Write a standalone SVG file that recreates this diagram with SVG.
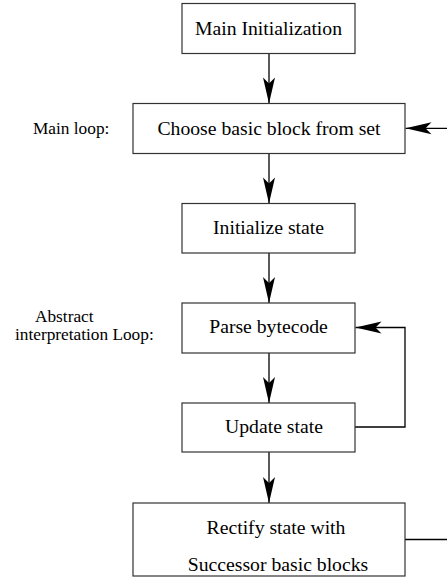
<svg xmlns="http://www.w3.org/2000/svg" width="447" height="577" viewBox="0 0 447 577">
<style>
  .box { fill: #ffffff; stroke: #333333; stroke-width: 1.2; }
  .lbl { font-family: "Liberation Serif", "Times New Roman", serif; font-size: 19.7px; fill: #000; text-anchor: middle; }
  .side { font-family: "Liberation Serif", "Times New Roman", serif; font-size: 17.3px; fill: #000; }
  .conn { fill: none; stroke: #000; stroke-width: 1.3; }
</style>
<defs>
  <marker id="arr" viewBox="-27 -7 28 14" markerWidth="28" markerHeight="14" refX="0" refY="0" orient="auto" markerUnits="userSpaceOnUse">
    <path d="M0,0 L-26,-6 L-20,0 L-26,6 Z" fill="#000"/>
  </marker>
</defs>
<rect width="447" height="577" fill="#ffffff"/>
<g id="connectors">
  <line class="conn" x1="269" y1="53.5" x2="269" y2="103.5" marker-end="url(#arr)"/>
  <line class="conn" x1="269" y1="153.5" x2="269" y2="203.5" marker-end="url(#arr)"/>
  <line class="conn" x1="269" y1="253" x2="269" y2="303" marker-end="url(#arr)"/>
  <line class="conn" x1="269" y1="353" x2="269" y2="403" marker-end="url(#arr)"/>
  <line class="conn" x1="269" y1="452" x2="269" y2="503" marker-end="url(#arr)"/>
  <path class="conn" d="M355,427 H405 V327.5 H355.5" marker-end="url(#arr)"/>
  <line class="conn" x1="447" y1="128.3" x2="405.5" y2="128.3" marker-end="url(#arr)"/>
  <line class="conn" x1="405" y1="539.5" x2="447" y2="539.5"/>
</g>
<g id="n-main-init">
  <rect class="box" x="182" y="3.5" width="173" height="50"/>
  <text class="lbl" x="268.5" y="34.5">Main Initialization</text>
</g>
<g id="n-choose">
  <rect class="box" x="133" y="103.5" width="272" height="50"/>
  <text class="lbl" x="269" y="134.5">Choose basic block from set</text>
</g>
<g id="n-init-state">
  <rect class="box" x="182" y="203.5" width="173" height="49.5"/>
  <text class="lbl" x="268.5" y="234">Initialize state</text>
</g>
<g id="n-parse">
  <rect class="box" x="182" y="303" width="173" height="50"/>
  <text class="lbl" x="268.5" y="333">Parse bytecode</text>
</g>
<g id="n-update">
  <rect class="box" x="182" y="403" width="173" height="49"/>
  <text class="lbl" x="274" y="433">Update state</text>
</g>
<g id="n-rectify">
  <rect class="box" x="133" y="503" width="272" height="73"/>
  <text class="lbl" x="276" y="534">Rectify state with</text>
  <text class="lbl" x="278" y="571">Successor basic blocks</text>
</g>
<g id="side-labels">
  <text class="side" x="33" y="133.5">Main loop:</text>
  <text class="side" x="35" y="321.5">Abstract</text>
  <text class="side" x="15" y="340">interpretation Loop:</text>
</g>
</svg>
